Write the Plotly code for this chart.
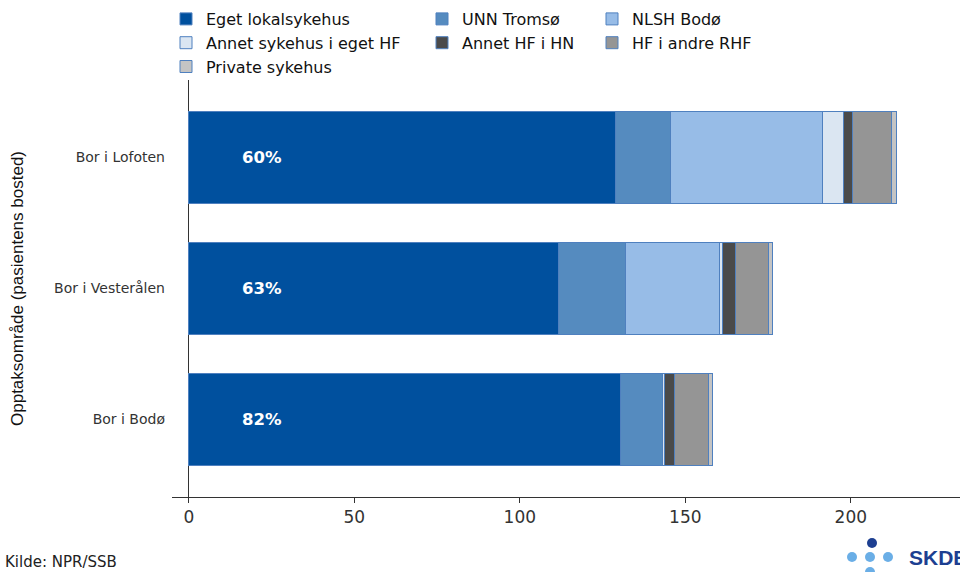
import plotly.graph_objects as go

categories = ["Bor i Lofoten", "Bor i Vesterålen", "Bor i Bodø"]
series_names = ["Eget lokalsykehus", "UNN Tromsø", "NLSH Bodø",
                "Annet sykehus i eget HF", "Annet HF i HN", "HF i andre RHF",
                "Private sykehus"]
eget = [128.8, 111.8, 130.4]
unn = [16.7, 20.2, 12.6]
nlsh = [45.9, 28.4, 0.0]
annet_syk = [6.5, 0.8, 0.6]
annet_hf = [2.6, 3.9, 3.2]
hf_andre = [11.9, 9.9, 10.1]
private = [1.4, 1.4, 1.3]

values = [eget, unn, nlsh, annet_syk, annet_hf, hf_andre, private]
colors = ["#00509e", "#558bbf", "#97bce7", "#dbe6f2", "#4a4a4a", "#959595", "#c4c4c4"]
legend_ids = ["legend", "legend2", "legend3", "legend", "legend2", "legend3", "legend"]

WFONT = "DejaVu Sans, Arial, sans-serif"
AFONT = "Liberation Sans, Arial, sans-serif"

fig = go.Figure()
for name, vals, col, lg in zip(series_names, values, colors, legend_ids):
    fig.add_trace(go.Bar(
        y=categories, x=vals, name=name, orientation="h",
        marker=dict(color=col, line=dict(color="#4f80bf", width=1)),
        legend=lg, hoverinfo="x+name",
    ))

totals = [sum(v[i] for v in values) for i in range(len(categories))]
for i, cat in enumerate(categories):
    pct = round(100 * eget[i] / totals[i])
    fig.add_annotation(x=22, y=cat, text=f"{pct}%", showarrow=False,
                       font=dict(family=WFONT, size=16.5, color="white", weight="bold"))

W, H = 960, 572
PL, PR, PT, PB = 172, 960, 80, 497


def px_x(px):
    return (px - PL) / (PR - PL)


def px_y(py):
    return (PB - py) / (PB - PT)


fig.add_annotation(x=px_x(3), y=px_y(562), xref="paper", yref="paper", yanchor="middle",
                   xanchor="left", text="Kilde: NPR/SSB", showarrow=False,
                   font=dict(family=WFONT, size=15, color="#222"))
# SKDE logo
logo_dots = [(872, 543, "#1d3f91"), (852, 557, "#6aaee6"), (870, 557, "#6aaee6"),
             (888, 557, "#6aaee6"), (870, 572, "#6aaee6")]
for (px, py, c) in logo_dots:
    fig.add_shape(type="circle", xref="paper", yref="paper",
                  x0=px_x(px - 5), x1=px_x(px + 5),
                  y0=px_y(py + 5), y1=px_y(py - 5),
                  fillcolor=c, line=dict(width=0))
fig.add_annotation(x=px_x(907), y=px_y(557), xref="paper", yref="paper",
                   xanchor="left", yanchor="middle", text="<b>SKDE</b>", showarrow=False,
                   font=dict(family=AFONT, size=21, color="#1d3f91"))

leg_common = dict(orientation="v", xanchor="left", yanchor="top", bgcolor="rgba(0,0,0,0)",
                  font=dict(family=WFONT, size=16, color="#111"), itemwidth=30,
                  tracegroupgap=0, traceorder="normal")
ytop = px_y(2)
fig.update_layout(
    width=W, height=H,
    margin=dict(l=PL, r=W - PR, t=PT, b=H - PB),
    barmode="stack", bargap=0.298,
    plot_bgcolor="white", paper_bgcolor="white",
    showlegend=True,
    legend=dict(x=px_x(166), y=ytop, **leg_common),
    legend2=dict(x=px_x(422), y=ytop, **leg_common),
    legend3=dict(x=px_x(592), y=ytop, **leg_common),
    xaxis=dict(range=[-5.1, 233], tickvals=[0, 50, 100, 150, 200], showgrid=False,
               showline=True, linecolor="#333", linewidth=1, ticks="outside",
               ticklen=5, tickcolor="#333", zeroline=True, zerolinecolor="#333",
               zerolinewidth=1, tickfont=dict(family=WFONT, size=17, color="#333")),
    yaxis=dict(categoryorder="array", categoryarray=categories, range=[2.595, -0.588],
               showgrid=False, showline=False, ticks="", ticklabelstandoff=6,
               tickfont=dict(family=WFONT, size=14, color="#333"),
               title=dict(text="Opptaksområde (pasientens bosted)", standoff=26,
                          font=dict(family=AFONT, size=17, color="#111"))),
)
fig.write_html("out.html")
